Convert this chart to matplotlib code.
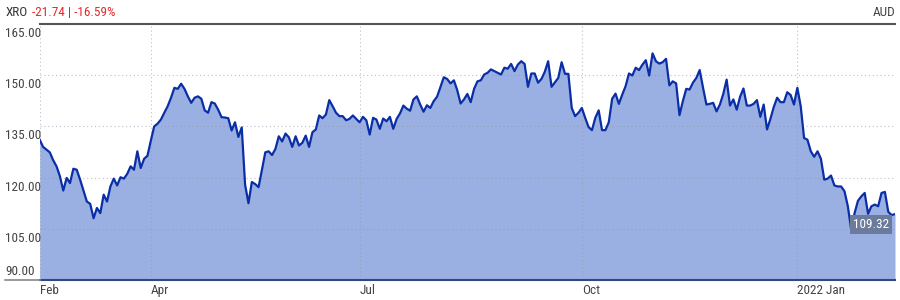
"""
XRO share price, one year, area chart.
"""

import matplotlib
matplotlib.use("Agg")

import matplotlib.pyplot as plt
import matplotlib.transforms as mtransforms
from matplotlib import font_manager


# ==========================================================
# Data (daily closes)
# ==========================================================

ticker = "XRO"
change_text = "-21.74 | -16.59%"
currency = "AUD"

close_feb_mar = [
    131.1, 129.0, 128.2, 127.4, 125.1, 123.3, 120.4, 116.2, 119.9, 118.4,
    122.6, 122.3, 119.4, 116.2, 113.0, 112.3, 108.1, 111.1, 109.6, 115.0,
    113.0, 117.4, 119.7, 117.7, 120.1, 119.7, 121.1, 123.3, 122.3, 127.7,
    122.8, 125.5, 126.4,
]

close_apr_jun = [
    130.8, 135.0, 135.8, 137.0, 139.0, 140.9, 143.4, 146.3, 146.0, 147.5,
    146.0, 143.8, 141.9, 143.4, 143.8, 143.1, 139.7, 139.0, 142.1, 141.7,
    139.9, 137.7, 137.6, 137.4, 133.8, 136.2, 131.9, 134.7, 117.9, 112.5,
    118.7, 118.1, 117.2, 122.3, 127.4, 127.7, 126.6, 128.4, 132.1, 130.6,
    132.9, 131.8, 129.0, 132.1, 129.4, 130.2, 132.3, 129.0, 133.3, 134.1,
    138.2, 137.4, 138.5, 142.7, 140.9, 139.0, 138.0, 138.0, 136.8, 137.2,
    138.2, 137.2,
]

close_jul_sep = [
    136.2, 137.8, 136.8, 132.6, 137.5, 137.0, 134.3, 137.3, 136.5, 137.8,
    134.3, 137.2, 138.8, 141.1, 140.2, 139.6, 142.9, 143.8, 141.4, 139.3,
    141.2, 140.4, 142.4, 143.7, 146.5, 149.4, 148.9, 147.6, 148.5, 145.6,
    141.7, 142.9, 144.5, 142.1, 146.0, 148.2, 148.5, 150.2, 150.7, 151.7,
    151.2, 150.7, 150.2, 152.2, 151.9, 153.3, 151.2, 153.1, 154.1, 153.3,
    146.6, 150.5, 150.5, 147.8, 148.9, 151.0, 154.1, 146.6, 147.9, 149.2,
    153.8, 150.4, 150.4, 140.4, 138.0, 139.0,
]

close_oct_dec = [
    140.4, 137.5, 134.8, 133.9, 137.5, 139.7, 133.9, 133.9, 136.2, 143.1,
    144.6, 141.6, 144.3, 146.8, 150.5, 149.9, 152.2, 151.5, 153.1, 154.4,
    149.9, 156.4, 154.1, 153.4, 153.8, 154.8, 147.0, 148.2, 147.6, 138.3,
    142.4, 146.0, 145.8, 147.8, 149.2, 151.5, 146.3, 141.4, 141.6, 141.9,
    139.4, 141.4, 144.5, 148.7, 141.1, 142.9, 139.9, 143.7, 146.1, 141.1,
    141.1, 141.6, 142.7, 137.8, 141.4, 134.1, 137.2, 140.7, 143.4, 142.1,
    142.1, 145.0, 144.2, 141.4,
]

close_jan_feb = [
    146.3, 140.9, 131.6, 131.1, 127.7, 126.1, 127.7, 125.5, 119.4, 119.7,
    120.6, 117.7, 117.4, 117.4, 116.0, 111.6, 104.7, 109.6, 113.2, 114.5,
    115.5, 109.4, 111.6, 112.1, 111.6, 115.5, 115.8, 110.0, 109.0, 109.32,
]

month_labels = ["Feb", "Apr", "Jul", "Oct", "2022 Jan"]
y_ticks = [90, 105, 120, 135, 150, 165]


# ==========================================================
# Style
# ==========================================================

names = {f.name for f in font_manager.fontManager.ttflist}
FONT = "Roboto"
FSIZE = 8.5
for cand in ["Roboto Condensed", "Liberation Sans Narrow",
             "Open Sans Condensed", "DejaVu Sans Condensed"]:
    if cand in names:
        FONT = cand
        FSIZE = 9.5
        break
plt.rcParams["font.family"] = [FONT, "DejaVu Sans"]

LINE_COLOR = "#0a2ea6"
FILL_COLOR = "#9bb0e2"
TEXT_COLOR = "#444444"
GRID_COLOR = "#8f97aa"


# ==========================================================
# Plot
# ==========================================================

segments = [close_feb_mar, close_apr_jun, close_jul_sep, close_oct_dec, close_jan_feb]
closes = [v for seg in segments for v in seg]
days = list(range(len(closes)))

tick_pos = [0]
for seg in segments[:-1]:
    tick_pos.append(tick_pos[-1] + len(seg))

fig = plt.figure(figsize=(9, 3), dpi=100)
ax = fig.add_axes([39.7 / 900, 20 / 300, (895 - 39.7) / 900, 256 / 300])

ax.fill_between(days, closes, y_ticks[0], color=FILL_COLOR, lw=0, zorder=1)
ax.plot(days, closes, color=LINE_COLOR, lw=1.6, zorder=3)

ax.set_xlim(0, len(closes) - 1)
ax.set_ylim(y_ticks[0], y_ticks[-1])

# dotted grid
for v in y_ticks[1:-1]:
    ax.axhline(v, color=GRID_COLOR, lw=0.8, ls=(0, (1, 2.5)), alpha=0.6, zorder=2)
for p in tick_pos:
    ax.axvline(p, color=GRID_COLOR, lw=0.8, ls=(0, (1, 2.5)), alpha=0.6, zorder=2)

# spines
for side in ["left", "right"]:
    ax.spines[side].set_visible(False)
ax.spines["top"].set_color("#555555")
ax.spines["top"].set_linewidth(1.5)
ax.spines["bottom"].set_color("#34457f")
ax.spines["bottom"].set_linewidth(1.5)

# axis line continued under the 90.00 label
fig.add_artist(plt.Line2D([5 / 900, 40 / 900], [20 / 300, 20 / 300],
                          color="#888888", lw=1.2))

# x tick labels
ax.set_yticks([])
ax.set_xticks(tick_pos)
ax.set_xticklabels(month_labels, fontsize=FSIZE, color=TEXT_COLOR)
ax.tick_params(axis="x", length=0, pad=3)
for lab in ax.get_xticklabels():
    lab.set_ha("left")

# y labels sit just under their grid line, the lowest one above
ytrans = ax.get_yaxis_transform()
for v in y_ticks:
    if v == y_ticks[0]:
        off = mtransforms.offset_copy(ytrans, fig=fig, x=0, y=2, units="dots")
        va = "bottom"
    else:
        off = mtransforms.offset_copy(ytrans, fig=fig, x=0, y=-3, units="dots")
        va = "top"
    ax.text((5 - 39.7) / 855.3, v, f"{v:.2f}", transform=off, ha="left", va=va,
            fontsize=FSIZE, color=TEXT_COLOR)

# header
head = fig.text(6 / 900, 1 - 12 / 300, ticker, ha="left", va="center",
                fontsize=FSIZE, color="#333333")
ax.annotate(change_text, xy=(1, 0.5), xycoords=head,
            xytext=(4, 0), textcoords="offset pixels",
            ha="left", va="center", fontsize=FSIZE, color="#e8262c",
            annotation_clip=False)
fig.text(895 / 900, 1 - 12 / 300, currency, ha="right", va="center",
         fontsize=FSIZE, color=TEXT_COLOR)

# last price tag
ax.annotate(f"{closes[-1]:.2f}", xy=(days[-1], closes[-1]),
            xytext=(-6, -4), textcoords="offset pixels",
            ha="right", va="top", fontsize=FSIZE, color="white", zorder=5,
            bbox=dict(boxstyle="square,pad=0.25", fc="#6c7b9b", ec="none"))

fig.savefig("out.png", dpi=100)
plt.close(fig)
